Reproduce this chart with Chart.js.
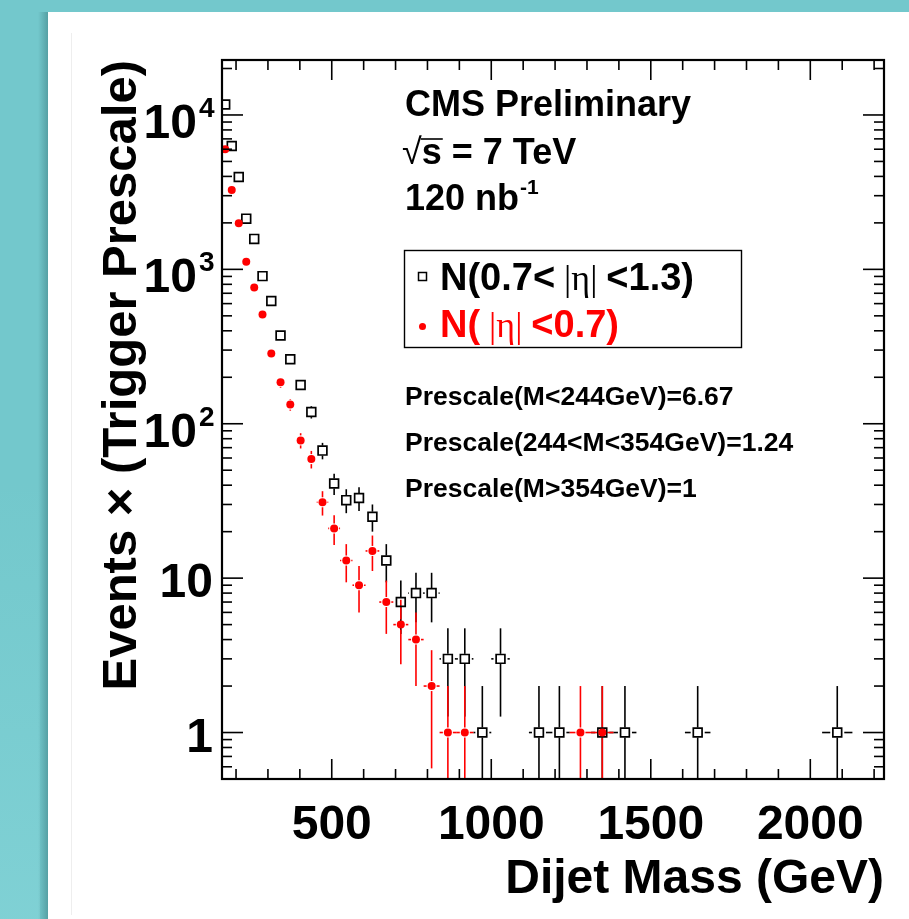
<!DOCTYPE html>
<html>
<head>
<meta charset="utf-8">
<script src="https://cdn.jsdelivr.net/npm/chart.js@4.4.1/dist/chart.umd.min.js"></script>
<style>
  html, body { margin: 0; padding: 0; background: #73c8cc; }
  #wrap { position: relative; width: 909px; height: 919px; }
</style>
</head>
<body>
<div id="wrap"><canvas id="c"></canvas></div>
<script>
// dijet mass bin edges (GeV)
const BIN_EDGES = [156, 176, 197, 220, 244, 270, 296, 325, 354, 386, 419, 453, 489, 526, 565, 606,
  649, 693, 740, 788, 838, 890, 944, 1000, 1058, 1118, 1181, 1246, 1313, 1383, 1455, 1530, 1607,
  1687, 1770, 1856, 1945, 2037, 2132, 2231];

// events x trigger prescale per bin (null = empty bin)
const OUTER_ETA = [11700, 6300, 3970, 2130, 1575, 904, 623, 373, 262, 178, 119, 67, 41, 32, 33, 25,
  13, 7, 8, 8, 3, 3, 1, 3, null, 1, 1, null, 1, 1, null, null, 1, null, null, null, null, 1, null];
const INNER_ETA = [6000, 3260, 1990, 1119, 763, 510, 285, 186, 133, 78, 59, 31, 21, 13, 9, 15,
  7, 5, 4, 2, 1, 1, null, null, null, null, null, 1, 1, null, null, null, null, null, null, null, null, null, null];

// trigger prescale regions: M<244, 244<M<354, M>354
const PRESCALE_CUTS = [244, 354];
const PRESCALES = [6.67, 1.24, 1];

const X_TICKS = [500, 1000, 1500, 2000];
const Y_EXPONENTS = [0, 1, 2, 3, 4];

const FONT = '"Liberation Sans", Arial, Helvetica, sans-serif';
const SERIF = '"Liberation Serif", "Times New Roman", serif';
const RED = '#ff0000';

const center = i => (BIN_EDGES[i] + BIN_EDGES[i + 1]) / 2;
function prescaleFor(i) {
  const m = center(i);
  if (m < PRESCALE_CUTS[0]) return PRESCALES[0];
  if (m < PRESCALE_CUTS[1]) return PRESCALES[1];
  return PRESCALES[2];
}
const toPoints = vals => vals.map((v, i) => v == null ? null : { x: center(i), y: v }).filter(Boolean);

const SERIES = [
  { values: OUTER_ETA, color: '#000000', vgap: 5, hgap: 7 },
  { values: INNER_ETA, color: RED, vgap: 5, hgap: 5 }
];

// teal backdrop with the white sheet on top
const backdrop = {
  id: 'backdrop',
  beforeDraw(chart) {
    const { ctx, width, height } = chart;
    ctx.save();
    ctx.fillStyle = '#73c8cc';
    ctx.fillRect(0, 0, width, height);
    const g = ctx.createLinearGradient(0, 480, 0, height);
    g.addColorStop(0, 'rgba(150,225,228,0)');
    g.addColorStop(1, 'rgba(150,225,228,0.35)');
    ctx.fillStyle = g;
    ctx.fillRect(0, 480, 40, height - 480);
    const s = ctx.createLinearGradient(38, 0, 48, 0);
    s.addColorStop(0, 'rgba(50,110,114,0)');
    s.addColorStop(1, 'rgba(50,110,114,0.45)');
    ctx.fillStyle = s;
    ctx.fillRect(38, 12, 10, height - 12);
    ctx.fillStyle = '#ffffff';
    ctx.fillRect(48, 12, width - 48, height - 12);
    ctx.fillStyle = '#eeeeee';
    ctx.fillRect(71, 33, 1, height - 37);
    ctx.restore();
  }
};

// vertical sqrt(N) errors and half-bin-width horizontal bars, leaving a gap at the marker
const errorBars = {
  id: 'errorBars',
  beforeDatasetsDraw(chart) {
    const { ctx, chartArea: a, scales: { x, y } } = chart;
    const seg = (x1, y1, x2, y2) => {
      if (Math.abs(x2 - x1) + Math.abs(y2 - y1) < 0.5) return;
      if (y2 < y1 || x2 < x1) return;
      ctx.beginPath(); ctx.moveTo(x1, y1); ctx.lineTo(x2, y2); ctx.stroke();
    };
    ctx.save();
    ctx.beginPath();
    ctx.rect(a.left, a.top, a.right - a.left, a.bottom - a.top);
    ctx.clip();
    ctx.lineWidth = 1.6;
    SERIES.forEach(s => {
      ctx.strokeStyle = s.color;
      s.values.forEach((v, i) => {
        if (v == null) return;
        const err = Math.sqrt(v * prescaleFor(i));
        const px = x.getPixelForValue(center(i));
        const py = y.getPixelForValue(v);
        const hi = y.getPixelForValue(v + err);
        const lo = v - err > 0 ? y.getPixelForValue(v - err) : a.bottom + 5;
        const xl = x.getPixelForValue(BIN_EDGES[i]);
        const xr = x.getPixelForValue(BIN_EDGES[i + 1]);
        seg(px, hi, px, py - s.vgap);
        seg(px, py + s.vgap, px, lo);
        seg(xl, py, px - s.hgap, py);
        seg(px + s.hgap, py, xr, py);
      });
    });
    ctx.restore();
  }
};

// ROOT style frame with inward ticks on all four sides
const frame = {
  id: 'frame',
  afterDatasetsDraw(chart) {
    const { ctx, chartArea: a, scales: { x, y } } = chart;
    const line = (x1, y1, x2, y2) => { ctx.beginPath(); ctx.moveTo(x1, y1); ctx.lineTo(x2, y2); ctx.stroke(); };
    ctx.save();
    ctx.strokeStyle = '#000';
    ctx.lineWidth = 1.6;
    for (let m = 200; m <= x.max; m += 100) {
      const px = x.getPixelForValue(m);
      const len = m % 500 === 0 ? 20 : 10;
      line(px, a.bottom, px, a.bottom - len);
      line(px, a.top, px, a.top + len);
    }
    for (let d = -1; d <= 4; d++) {
      for (let k = 1; k <= 9; k++) {
        const v = k * Math.pow(10, d);
        if (v < y.min || v > y.max) continue;
        const py = y.getPixelForValue(v);
        const len = k === 1 ? 21 : 10;
        line(a.left, py, a.left + len, py);
        line(a.right, py, a.right - len, py);
      }
    }
    ctx.lineWidth = 2.2;
    ctx.strokeRect(a.left, a.top, a.right - a.left, a.bottom - a.top);
    ctx.restore();
  }
};

// axis titles, y tick labels, annotations and legend
const labels = {
  id: 'labels',
  afterDraw(chart) {
    const { ctx, chartArea: a, scales: { y } } = chart;
    ctx.save();
    ctx.fillStyle = '#000';
    ctx.textBaseline = 'alphabetic';

    // y tick labels: 1, 10, 10^2 ...
    Y_EXPONENTS.forEach(e => {
      const py = y.getPixelForValue(Math.pow(10, e));
      ctx.textAlign = 'right';
      ctx.font = 'bold 48px ' + FONT;
      if (e < 2) {
        ctx.fillText(e === 0 ? '1' : '10', 213, py + 19);
      } else {
        ctx.fillText('10', 197, py + 23);
        ctx.textAlign = 'left';
        ctx.font = 'bold 28px ' + FONT;
        ctx.fillText(String(e), 199, py + 2);
      }
    });

    // axis titles
    ctx.font = 'bold 48px ' + FONT;
    ctx.textAlign = 'right';
    ctx.fillText('Dijet Mass (GeV)', a.right, 893);
    ctx.save();
    ctx.translate(136, a.top);
    ctx.rotate(-Math.PI / 2);
    ctx.font = 'bold 49px ' + FONT;
    ctx.textAlign = 'right';
    ctx.fillText('Events \u00d7 (Trigger Prescale)', 0, 0);
    ctx.restore();

    // CMS label block
    ctx.textAlign = 'left';
    ctx.font = 'bold 36px ' + FONT;
    ctx.fillText('CMS Preliminary', 405, 116);
    ctx.font = '36px ' + FONT;
    ctx.fillText('\u221a', 402, 164);
    const rootW = ctx.measureText('\u221a').width;
    ctx.font = 'bold 36px ' + FONT;
    const sW = ctx.measureText('s').width;
    ctx.fillText('s = 7 TeV', 402 + rootW, 164);
    ctx.lineWidth = 1.6;
    ctx.beginPath();
    ctx.moveTo(402 + rootW - 1, 139);
    ctx.lineTo(402 + rootW + sW + 1, 139);
    ctx.stroke();
    ctx.fillText('120 nb', 405, 210);
    const nbW = ctx.measureText('120 nb').width;
    ctx.font = 'bold 21px ' + FONT;
    ctx.fillText('-1', 405 + nbW + 1, 194);

    // prescale notes
    ctx.font = 'bold 26.5px ' + FONT;
    ctx.fillText('Prescale(M<244GeV)=6.67', 405, 405);
    ctx.fillText('Prescale(244<M<354GeV)=1.24', 405, 451);
    ctx.fillText('Prescale(M>354GeV)=1', 405, 497);

    // legend box
    ctx.lineWidth = 1.4;
    ctx.strokeStyle = '#000';
    ctx.strokeRect(404.5, 250.5, 337, 97);
    const entry = (parts, x0, base, color) => {
      let xx = x0;
      ctx.fillStyle = color;
      parts.forEach(([t, f]) => {
        ctx.font = f;
        ctx.fillText(t, xx, base);
        xx += ctx.measureText(t).width;
      });
    };
    const B = 'bold 38px ' + FONT, S = '36px ' + SERIF;
    entry([['N(0.7<', B], [' |\u03b7| ', S], ['<1.3)', B]], 440, 290, '#000');
    entry([['N(', B], [' |\u03b7| ', S], ['<0.7)', B]], 440, 337, RED);
    ctx.strokeStyle = '#000';
    ctx.lineWidth = 1.5;
    ctx.strokeRect(418.5, 272.5, 8, 8);
    ctx.fillStyle = RED;
    ctx.beginPath();
    ctx.arc(422.5, 326.5, 3.5, 0, Math.PI * 2);
    ctx.fill();
    ctx.restore();
  }
};

new Chart(document.getElementById('c'), {
  type: 'scatter',
  data: {
    datasets: [
      {
        label: 'N(|\u03b7|<0.7)',
        data: toPoints(INNER_ETA),
        order: 0,
        pointStyle: 'circle',
        pointRadius: 4,
        backgroundColor: RED,
        borderColor: RED,
        borderWidth: 0
      },
      {
        label: 'N(0.7<|\u03b7|<1.3)',
        data: toPoints(OUTER_ETA),
        order: 1,
        pointStyle: 'rect',
        pointRadius: 6.2,
        backgroundColor: 'rgba(0,0,0,0)',
        borderColor: '#000',
        borderWidth: 1.7
      }
    ]
  },
  options: {
    responsive: true,
    maintainAspectRatio: false,
    animation: false,
    events: [],
    layout: { padding: { left: 0, right: 25, top: 60, bottom: 0 } },
    plugins: { legend: { display: false }, tooltip: { enabled: false } },
    scales: {
      x: {
        type: 'linear',
        min: 156,
        max: 2231,
        grid: { display: false },
        border: { display: false },
        afterBuildTicks: scale => { scale.ticks = X_TICKS.map(v => ({ value: v })); },
        afterFit: scale => { scale.height = 140; },
        ticks: {
          autoSkip: false,
          maxRotation: 0,
          padding: 10,
          color: '#000',
          font: { family: FONT, size: 48, weight: 'bold' },
          callback: v => String(v)
        }
      },
      y: {
        type: 'logarithmic',
        min: 0.5,
        max: 22700,
        grid: { display: false },
        border: { display: false },
        ticks: { display: false },
        afterFit: scale => { scale.width = 222; }
      }
    }
  },
  plugins: [backdrop, errorBars, frame, labels]
});
</script>
</body>
</html>
